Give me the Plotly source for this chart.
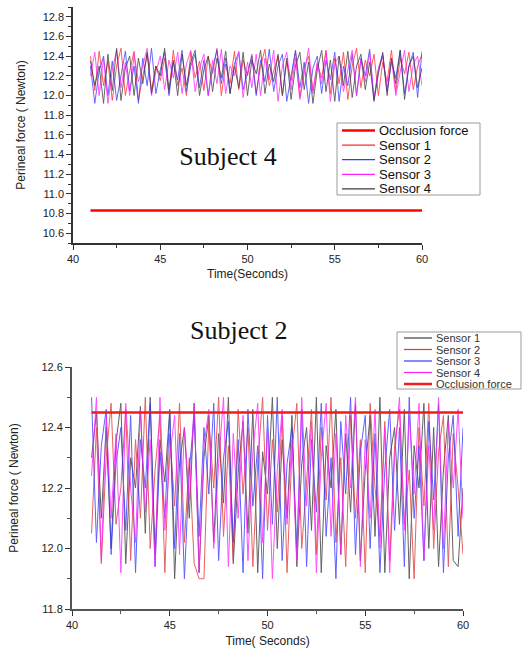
import plotly.graph_objects as go

# ------------------------------
# data
# ------------------------------
t = [41.0, 41.25, 41.5, 41.75, 42.0, 42.25, 42.5, 42.75, 43.0, 43.25, 43.5,
     43.75, 44.0, 44.25, 44.5, 44.75, 45.0, 45.25, 45.5, 45.75, 46.0, 46.25,
     46.5, 46.75, 47.0, 47.25, 47.5, 47.75, 48.0, 48.25, 48.5, 48.75, 49.0,
     49.25, 49.5, 49.75, 50.0, 50.25, 50.5, 50.75, 51.0, 51.25, 51.5, 51.75,
     52.0, 52.25, 52.5, 52.75, 53.0, 53.25, 53.5, 53.75, 54.0, 54.25, 54.5,
     54.75, 55.0, 55.25, 55.5, 55.75, 56.0, 56.25, 56.5, 56.75, 57.0, 57.25,
     57.5, 57.75, 58.0, 58.25, 58.5, 58.75, 59.0, 59.25, 59.5, 59.75, 60.0]

occ_t = [41.0, 60.0]

# Subject 4
s4_occlusion = [10.83, 10.83]
s4_sensor1 = [12.40, 12.05, 12.45, 12.10, 12.35, 11.95, 12.30, 12.48, 12.00, 12.25, 12.45,
              11.95, 12.20, 12.42, 12.05, 12.30, 12.15, 12.38, 12.02, 12.46, 12.10, 12.28,
              12.00, 12.44, 12.18, 12.35, 12.05, 12.40, 12.22, 12.48, 12.00, 12.32, 12.12,
              12.45, 12.06, 12.36, 12.20, 12.42, 12.02, 12.30, 12.47, 12.10, 12.25, 12.40,
              12.00, 12.35, 12.15, 12.45, 11.98, 12.28, 12.40, 12.05, 12.32, 12.18, 12.46,
              12.02, 12.38, 12.12, 12.44, 11.96, 12.30, 12.48, 12.08, 12.36, 12.20, 12.42,
              12.00, 12.34, 12.14, 12.46, 12.04, 12.38, 12.22, 12.44, 12.06, 12.30, 12.42]
s4_sensor2 = [12.30, 11.92, 12.25, 12.40, 12.00, 12.35, 11.95, 12.20, 12.45, 12.05, 12.30,
              11.92, 12.38, 12.10, 12.48, 12.02, 12.26, 12.44, 12.00, 12.34, 12.16, 12.46,
              12.04, 12.30, 12.42, 12.08, 12.36, 12.00, 12.28, 12.46, 12.12, 12.38, 12.02,
              12.32, 12.44, 12.06, 12.24, 12.40, 12.00, 12.36, 12.14, 12.47, 12.04, 12.30,
              12.42, 11.94, 12.20, 12.46, 12.08, 12.34, 11.92, 12.28, 12.40, 12.02, 12.36,
              12.16, 12.44, 11.94, 12.30, 12.10, 12.42, 12.00, 12.38, 12.20, 12.47, 11.96,
              12.26, 12.40, 12.04, 12.34, 12.18, 12.46, 12.02, 12.30, 12.44, 11.98, 12.45]
s4_sensor3 = [12.20, 12.44, 12.00, 12.38, 11.92, 12.26, 12.46, 12.08, 12.34, 12.00, 12.42,
              12.14, 12.30, 12.48, 12.00, 12.24, 12.40, 12.06, 12.36, 12.18, 12.44, 12.02,
              12.32, 12.46, 12.04, 12.28, 12.42, 12.00, 12.36, 12.12, 12.47, 12.02, 12.30,
              12.20, 12.45, 11.98, 12.34, 12.08, 12.42, 12.00, 12.38, 12.16, 12.46, 11.94,
              12.30, 12.44, 12.06, 12.38, 11.96, 12.24, 12.48, 12.02, 12.34, 12.12, 12.45,
              11.94, 12.32, 12.40, 12.04, 12.26, 12.46, 12.00, 12.36, 12.14, 12.44, 11.96,
              12.28, 12.42, 12.06, 12.38, 12.00, 12.24, 12.46, 12.04, 12.32, 12.40, 12.10]
s4_sensor4 = [12.35, 12.10, 12.30, 11.92, 12.42, 12.05, 12.48, 11.95, 12.28, 12.40, 12.00,
              12.38, 12.12, 12.44, 12.02, 12.30, 12.20, 12.48, 12.06, 12.36, 12.00, 12.42,
              12.10, 12.34, 12.46, 12.00, 12.26, 12.40, 12.04, 12.38, 12.18, 12.45, 12.02,
              12.30, 12.08, 12.44, 12.00, 12.36, 12.22, 12.46, 12.02, 12.32, 12.14, 12.42,
              12.00, 12.38, 11.96, 12.30, 12.44, 12.06, 12.34, 11.92, 12.26, 12.46, 12.04,
              12.36, 11.94, 12.40, 12.10, 12.45, 11.98, 12.30, 12.42, 12.06, 12.34, 11.94,
              12.22, 12.44, 12.00, 12.38, 12.12, 12.46, 11.96, 12.30, 12.40, 12.08, 12.28]

# Subject 2
s2_occlusion = [12.45, 12.45]
s2_sensor1 = [12.30, 12.45, 12.10, 12.40, 12.00, 12.35, 12.48, 11.95, 12.30, 12.20, 12.47,
              12.05, 12.50, 11.98, 12.36, 12.22, 12.46, 11.90, 12.28, 12.40, 12.10, 12.48,
              11.92, 12.30, 12.44, 12.02, 12.38, 12.15, 12.50, 11.95, 12.25, 12.42, 12.05,
              12.46, 11.92, 12.32, 12.18, 12.50, 12.00, 12.36, 12.10, 12.44, 11.94, 12.28,
              12.40, 12.06, 12.50, 11.92, 12.34, 12.20, 12.46, 11.98, 12.38, 12.12, 12.48,
              11.96, 12.26, 12.44, 12.04, 12.50, 11.92, 12.30, 12.40, 12.08, 12.46, 11.90,
              12.34, 12.20, 12.48, 12.00, 12.40, 11.94, 12.26, 12.44, 11.96, 11.94, 12.20]
s2_sensor2 = [12.05, 12.40, 11.95, 12.30, 12.48, 12.08, 12.20, 12.46, 11.96, 12.36, 12.10,
              12.50, 12.00, 12.26, 12.44, 11.92, 12.38, 12.14, 12.48, 12.02, 12.30, 11.95,
              11.90, 11.90, 12.42, 12.20, 12.50, 12.04, 12.34, 11.96, 12.46, 12.18, 12.40,
              11.94, 12.28, 12.50, 12.06, 12.36, 12.12, 12.44, 11.92, 12.32, 12.48, 12.00,
              12.22, 12.46, 11.98, 12.40, 12.16, 12.50, 12.02, 12.30, 11.94, 12.44, 12.10,
              12.36, 11.92, 12.48, 12.20, 12.04, 12.42, 11.96, 12.34, 12.46, 12.08, 12.26,
              11.90, 12.40, 12.14, 12.48, 12.00, 12.32, 12.44, 11.94, 12.38, 12.20, 11.98]
s2_sensor3 = [12.50, 12.02, 12.34, 12.46, 11.98, 12.28, 12.40, 12.06, 12.44, 11.92, 12.36,
              12.20, 12.48, 11.94, 12.32, 12.10, 12.45, 12.00, 12.38, 11.90, 12.26, 12.44,
              12.04, 12.40, 12.18, 12.48, 11.96, 12.30, 12.42, 12.02, 12.36, 11.92, 12.46,
              12.14, 12.34, 11.90, 12.44, 12.08, 12.50, 11.96, 12.28, 12.40, 12.00, 12.46,
              11.94, 12.36, 12.12, 12.48, 12.04, 12.30, 11.90, 12.42, 12.18, 12.50, 11.98,
              12.32, 12.44, 12.00, 12.38, 11.92, 12.26, 12.46, 12.06, 12.40, 11.94, 12.50,
              12.10, 12.34, 11.96, 12.42, 12.16, 12.48, 11.92, 12.30, 12.44, 12.04, 12.40]
s2_sensor4 = [12.24, 12.50, 11.96, 12.44, 12.10, 12.38, 11.92, 12.48, 12.20, 12.02, 12.46,
              12.12, 12.36, 11.94, 12.50, 12.06, 12.30, 12.44, 11.98, 12.40, 12.16, 12.48,
              11.92, 12.34, 12.46, 12.00, 12.28, 12.50, 11.94, 12.38, 12.10, 12.44, 11.96,
              12.32, 12.48, 12.02, 12.40, 11.90, 12.26, 12.46, 12.08, 12.36, 11.96, 12.50,
              12.14, 12.42, 11.92, 12.30, 12.48, 12.04, 12.38, 11.98, 12.44, 12.20, 12.50,
              11.94, 12.36, 12.10, 12.46, 12.00, 12.40, 11.92, 12.30, 12.50, 12.06, 12.44,
              12.18, 12.48, 11.96, 12.34, 12.06, 12.50, 12.00, 12.42, 12.20, 12.46, 12.10]

RED = "#ff2a2a"
BLUE = "#3a3aff"
MAGENTA = "#ff22ff"
GREY = "#3c3c3c"
OCC_RED = "#ff0000"

W, H = 522, 650


def px(x, y):
    # pixel position -> paper coords
    return x / W, 1 - y / H


fig = go.Figure()

# ------------------------------
# top panel : Subject 4
# ------------------------------
top = [("Occlusion force", occ_t, s4_occlusion, OCC_RED, 2.5),
       ("Sensor 1", t, s4_sensor1, RED, 0.9),
       ("Sensor 2", t, s4_sensor2, BLUE, 0.9),
       ("Sensor 3", t, s4_sensor3, MAGENTA, 0.9),
       ("Sensor 4", t, s4_sensor4, GREY, 0.9)]
for name, xs, vals, col, lw in top:
    fig.add_trace(go.Scatter(x=xs, y=vals, mode="lines", name=name, showlegend=False,
                             line=dict(color=col, width=lw), opacity=1 if lw > 2 else 0.85,
                             xaxis="x", yaxis="y"))

# ------------------------------
# bottom panel : Subject 2
# ------------------------------
bottom = [("Sensor 1", t, s2_sensor1, GREY, 1),
          ("Sensor 2", t, s2_sensor2, "#e23a3a", 1),
          ("Sensor 3", t, s2_sensor3, BLUE, 1),
          ("Sensor 4", t, s2_sensor4, MAGENTA, 1),
          ("Occlusion force", occ_t, s2_occlusion, "#ee1c1c", 2.5)]
for name, xs, vals, col, lw in bottom:
    fig.add_trace(go.Scatter(x=xs, y=vals, mode="lines", name=name, showlegend=False,
                             line=dict(color=col, width=lw), opacity=1 if lw > 2 else 0.8,
                             xaxis="x2", yaxis="y2"))

# ------------------------------
# compact legend boxes (plotly's own legend rows are too tall here)
# ------------------------------
shapes = []
annotations = []


def legend_box(items, box, y0, step, line_x, text_x, size, color):
    x0, y_top, x1, y_bot = box
    a, b = px(x0, y_top)
    c, d = px(x1, y_bot)
    shapes.append(dict(type="rect", xref="paper", yref="paper", x0=a, y0=d, x1=c, y1=b,
                       line=dict(color="#9a9a9a", width=1), fillcolor="white", layer="above"))
    for i, (name, _, _, col, lw) in enumerate(items):
        yy = y0 + i * step
        p, q = px(line_x[0], yy)
        r, _ = px(line_x[1], yy)
        shapes.append(dict(type="line", xref="paper", yref="paper", x0=p, y0=q, x1=r, y1=q,
                           line=dict(color=col, width=2.5 if lw > 2 else 1.2), layer="above"))
        tx, _ = px(text_x, yy)
        annotations.append(dict(text=name, x=tx, y=q, xref="paper", yref="paper",
                                xanchor="left", yanchor="middle", showarrow=False,
                                font=dict(family="Liberation Sans, Arial", size=size,
                                          color=color)))


legend_box(top, (337, 123, 480, 195), 130.5, 14.6, (342, 375), 377, 13, "#111")
legend_box(bottom, (397, 332, 521, 389), 338, 11.5, (404, 432), 434, 11, "#333")

# white box hides the data under the label, as in the original
sx, sy = px(228, 125)
annotations.append(dict(text="Subject 4", x=sx, y=sy, xref="paper", yref="paper",
                        showarrow=False, width=150, height=58, bgcolor="white",
                        font=dict(family="Liberation Serif, Times New Roman", size=26,
                                  color="#111")))
sx, sy = px(239, 330)
annotations.append(dict(text="Subject 2", x=sx, y=sy, xref="paper", yref="paper",
                        showarrow=False,
                        font=dict(family="Liberation Serif, Times New Roman", size=26,
                                  color="#111")))

tickfont = dict(family="Liberation Sans, Arial", size=11, color="#222")
titlefont = dict(family="Liberation Sans, Arial", size=12, color="#222")
ax = dict(showline=True, linecolor="#333", linewidth=1.5, ticks="outside", ticklen=5,
          tickcolor="#333", showgrid=False, zeroline=False, tickfont=tickfont,
          automargin=False)

fig.update_layout(
    width=W, height=H,
    margin=dict(l=0, r=0, t=0, b=0),
    paper_bgcolor="white", plot_bgcolor="white",
    showlegend=False,
    xaxis=dict(ax, domain=[73 / W, 422 / W], range=[40, 60], anchor="y", tick0=40, dtick=5,
               minor=dict(ticks="outside", ticklen=3, dtick=2.5, tickcolor="#333"),
               title=dict(text="Time(Seconds)", font=titlefont, standoff=6)),
    yaxis=dict(ax, domain=[1 - 243 / H, 1 - 7 / H], range=[10.5, 12.9], anchor="x", tick0=10.6,
               dtick=0.2, tickformat=".1f",
               minor=dict(ticks="outside", ticklen=3, dtick=0.1, tickcolor="#333"),
               title=dict(text="Perineal force ( Newton)", font=titlefont, standoff=14)),
    xaxis2=dict(ax, domain=[72 / W, 463 / W], range=[40, 60], anchor="y2", tick0=40, dtick=5,
                linecolor="#555", linewidth=2,
                minor=dict(ticks="outside", ticklen=3, dtick=2.5, tickcolor="#555"),
                title=dict(text="Time( Seconds)", font=titlefont, standoff=6)),
    yaxis2=dict(ax, domain=[1 - 609 / H, 1 - 367 / H], range=[11.8, 12.6], anchor="x2",
                tick0=11.8, dtick=0.2, tickformat=".1f", linecolor="#555", linewidth=2,
                minor=dict(ticks="outside", ticklen=3, dtick=0.1, tickcolor="#555"),
                title=dict(text="Perineal force ( Newton)", font=titlefont, standoff=20)),
    shapes=shapes,
    annotations=annotations,
)

# the page body has an 8px default margin; drop it so the figure sits at 0,0
fig.write_html("out.html", config={"displayModeBar": False},
               post_script="document.body.style.margin = '0px';")
